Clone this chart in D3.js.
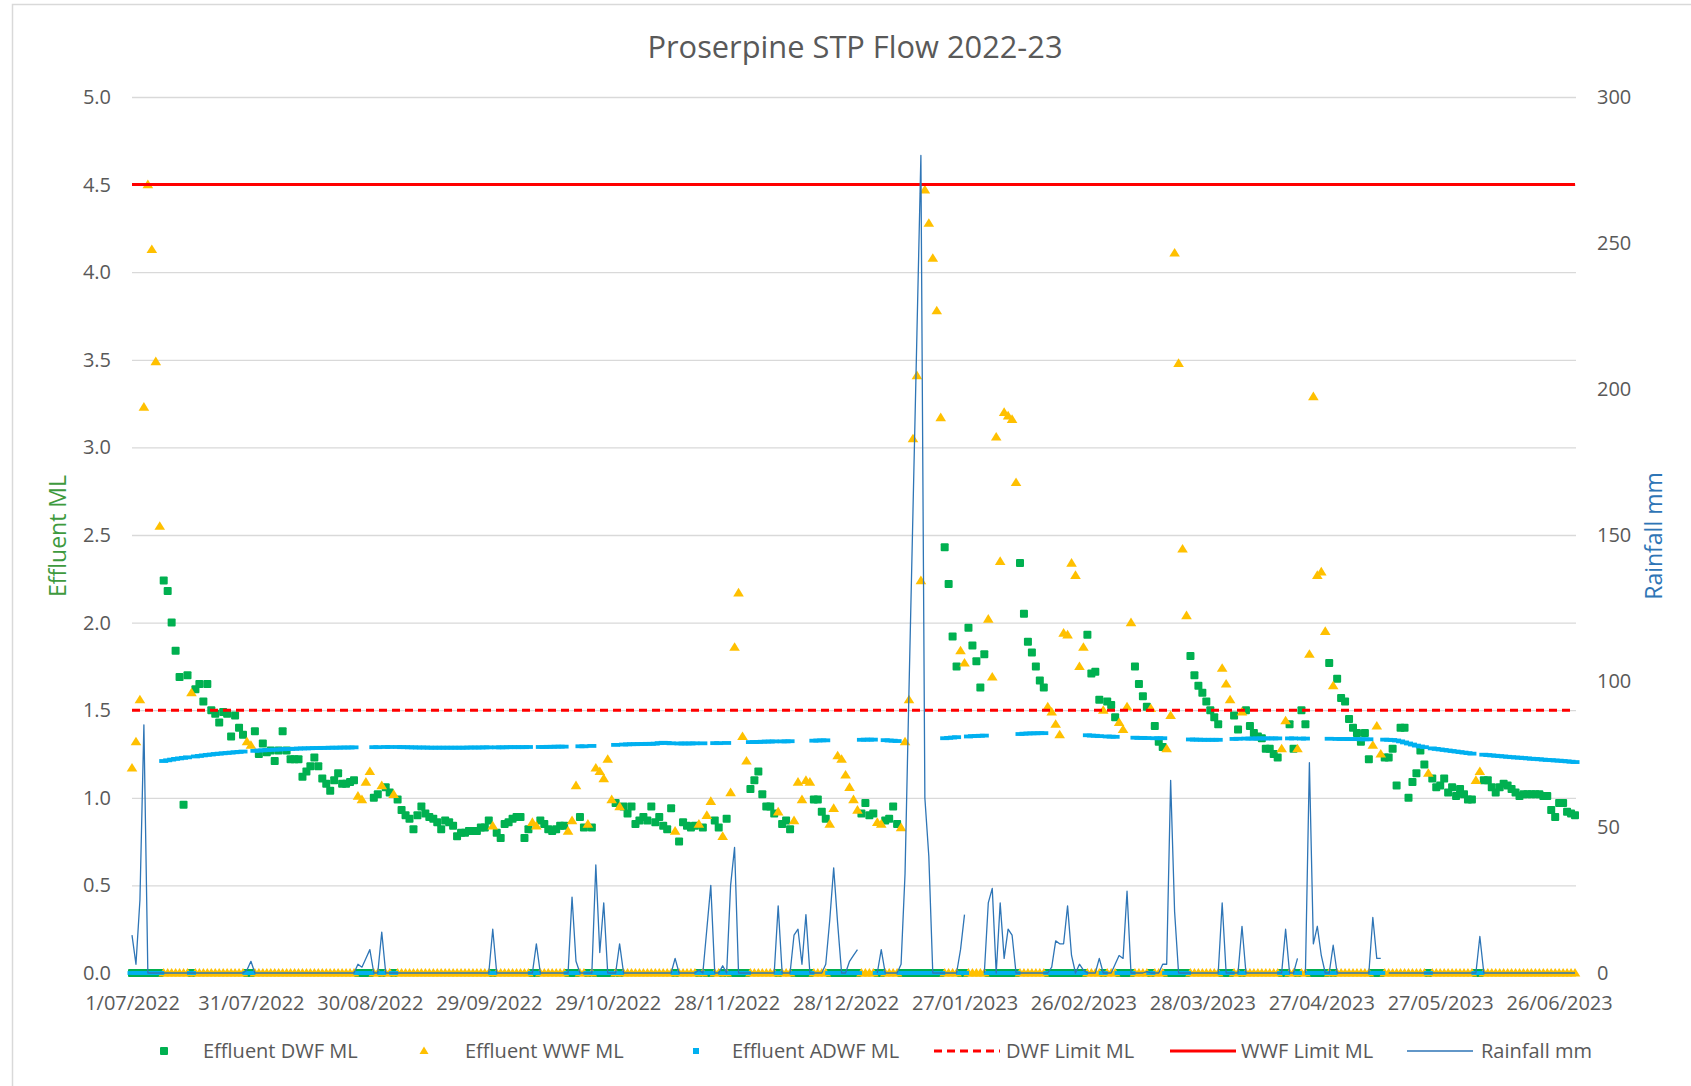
<!DOCTYPE html>
<html>
<head>
<meta charset="utf-8">
<script src="https://cdn.jsdelivr.net/npm/d3@7"></script>
<style>
  body { margin: 0; background: #fff; }
  svg { display: block; font-family: "Open Sans", sans-serif; }
</style>
</head>
<body>
<svg id="chart" width="1691" height="1086"></svg>
<script>
// Daily effluent flow (ML) from 1/07/2022, one value per day
const flowML = [
  // 0
  1.17, 1.32, 1.56, 3.23, 4.50, 4.13, 3.49, 2.55, 2.24, 2.18,
  2.00, 1.84, 1.69, 0.96, 1.70, 1.60, 1.62, 1.65, 1.55, 1.65,
  1.50, 1.48, 1.43, 1.49, 1.48, 1.35, 1.47, 1.40, 1.36, 1.32,
  // 30
  1.30, 1.38, 1.25, 1.31, 1.26, 1.27, 1.21, 1.27, 1.38, 1.27,
  1.22, 1.22, 1.22, 1.12, 1.15, 1.18, 1.23, 1.18, 1.11, 1.08,
  1.04, 1.10, 1.14, 1.08, 1.08, 1.09, 1.10, 1.01, 0.99, 1.09,
  // 60
  1.15, 1.00, 1.02, 1.07, 1.06, 1.03, 1.02, 0.99, 0.93, 0.90,
  0.88, 0.82, 0.90, 0.95, 0.91, 0.89, 0.88, 0.86, 0.82, 0.87,
  0.86, 0.84, 0.78, 0.80, 0.80, 0.81, 0.81, 0.81, 0.83, 0.83,
  // 90
  0.87, 0.84, 0.80, 0.77, 0.85, 0.86, 0.88, 0.89, 0.89, 0.77,
  0.82, 0.86, 0.84, 0.87, 0.85, 0.82, 0.81, 0.82, 0.84, 0.84,
  0.81, 0.87, 1.07, 0.89, 0.83, 0.85, 0.83, 1.17, 1.15, 1.11,
  // 120
  1.22, 0.99, 0.97, 0.95, 0.95, 0.91, 0.95, 0.85, 0.87, 0.89,
  0.87, 0.95, 0.86, 0.89, 0.84, 0.82, 0.94, 0.81, 0.75, 0.86,
  0.84, 0.83, 0.84, 0.85, 0.83, 0.90, 0.98, 0.87, 0.83, 0.78,
  // 150
  0.88, 1.03, 1.86, 2.17, 1.35, 1.21, 1.05, 1.10, 1.15, 1.02,
  0.95, 0.95, 0.91, 0.92, 0.85, 0.87, 0.82, 0.87, 1.09, 0.99,
  1.10, 1.09, 0.99, 0.99, 0.92, 0.88, 0.85, 0.94, 1.24, 1.22,
  // 180
  1.13, 1.06, 0.99, 0.93, 0.91, 0.97, 0.90, 0.91, 0.86, 0.85,
  0.87, 0.88, 0.95, 0.85, 0.83, 1.32, 1.56, 3.05, 3.41, 2.24,
  4.47, 4.28, 4.08, 3.78, 3.17, 2.43, 2.22, 1.92, 1.75, 1.84,
  // 210
  1.77, 1.97, 1.87, 1.78, 1.63, 1.82, 2.02, 1.69, 3.06, 2.35,
  3.20, 3.18, 3.16, 2.80, 2.34, 2.05, 1.89, 1.83, 1.75, 1.67,
  1.63, 1.52, 1.49, 1.42, 1.36, 1.94, 1.93, 2.34, 2.27, 1.75,
  // 240
  1.86, 1.93, 1.71, 1.72, 1.56, 1.50, 1.55, 1.53, 1.46, 1.43,
  1.39, 1.52, 2.00, 1.75, 1.65, 1.58, 1.52, 1.51, 1.41, 1.32,
  1.29, 1.28, 1.47, 4.11, 3.48, 2.42, 2.04, 1.81, 1.70, 1.64,
  // 270
  1.60, 1.55, 1.50, 1.46, 1.42, 1.74, 1.65, 1.56, 1.47, 1.39,
  1.49, 1.50, 1.41, 1.37, 1.35, 1.34, 1.28, 1.28, 1.25, 1.23,
  1.28, 1.44, 1.42, 1.28, 1.28, 1.50, 1.42, 1.82, 3.29, 2.27,
  // 300
  2.29, 1.95, 1.77, 1.64, 1.68, 1.57, 1.55, 1.45, 1.40, 1.37,
  1.32, 1.37, 1.22, 1.30, 1.41, 1.25, 1.23, 1.23, 1.28, 1.07,
  1.40, 1.40, 1.00, 1.09, 1.14, 1.27, 1.19, 1.14, 1.11, 1.06,
  // 330
  1.07, 1.11, 1.03, 1.06, 1.01, 1.05, 1.02, 0.99, 0.99, 1.10,
  1.15, 1.10, 1.10, 1.06, 1.03, 1.06, 1.08, 1.07, 1.05, 1.03,
  1.01, 1.02, 1.02, 1.02, 1.02, 1.02, 1.01, 1.01, 0.93, 0.89,
  // 360
  0.97, 0.97, 0.92, 0.91, 0.90
];

// days (from 1/07/2022) that were wet weather flow days
const wetDays = [
  0, 1, 2, 3, 4, 5, 6, 7, 15, 29, 30, 57, 58, 59, 60, 63, 66, 91, 101, 102,
  110, 111, 112, 115, 117, 118, 119, 120, 121, 123, 137, 143, 145, 146, 149,
  151, 152, 153, 154, 155, 163, 167, 168, 169, 170, 171,
  176, 177, 178, 179, 180, 181, 182, 183, 188, 189,
  194, 195, 196, 197, 198, 199, 200, 201, 202, 203, 204, 209, 210,
  216, 217, 218, 219, 220, 221, 222, 223,
  231, 232, 233, 234, 235, 236, 237, 238, 239, 240, 245, 249, 250, 251, 252,
  257, 261, 262, 263, 264, 265, 266, 275, 276, 277, 280, 290, 291, 294,
  297, 298, 299, 300, 301, 303, 313, 314, 315, 327, 339, 340
];

// Average dry weather flow, 0 on wet days
const adwfML = [
  0, 0, 0, 0, 0, 0, 0, 0, 1.210, 1.214,
  1.218, 1.222, 1.225, 1.228, 1.231, 0, 1.236, 1.239, 1.242, 1.245,
  1.247, 1.250, 1.252, 1.254, 1.256, 1.258, 1.260, 1.262, 1.264, 0,
  0, 1.268, 1.270, 1.271, 1.272, 1.274, 1.275, 1.276, 1.277, 1.278,
  1.279, 1.280, 1.281, 1.282, 1.282, 1.283, 1.284, 1.284, 1.285, 1.285,
  1.286, 1.286, 1.286, 1.287, 1.287, 1.287, 1.288, 0, 0, 0,
  0, 1.289, 1.289, 0, 1.290, 1.290, 0, 1.290, 1.289, 1.289,
  1.288, 1.288, 1.287, 1.287, 1.287, 1.286, 1.286, 1.286, 1.286, 1.286,
  1.286, 1.286, 1.286, 1.286, 1.286, 1.287, 1.287, 1.287, 1.287, 1.288,
  1.288, 0, 1.288, 1.288, 1.288, 1.289, 1.289, 1.289, 1.289, 1.289,
  1.290, 0, 0, 1.290, 1.290, 1.291, 1.291, 1.292, 1.292, 1.292,
  0, 0, 0, 1.294, 1.294, 0, 1.296, 0, 0, 0,
  0, 0, 1.302, 0, 1.304, 1.305, 1.306, 1.306, 1.307, 1.307,
  1.308, 1.308, 1.309, 1.312, 1.314, 1.313, 1.311, 0, 1.310, 1.310,
  1.310, 1.310, 1.311, 0, 1.311, 0, 0, 1.312, 1.312, 0,
  1.313, 0, 0, 0, 0, 0, 1.318, 1.318, 1.319, 1.320,
  1.321, 1.321, 1.322, 0, 1.322, 1.322, 1.323, 0, 0, 0,
  0, 0, 1.326, 1.327, 1.328, 1.328, 0, 0, 0, 0,
  0, 0, 0, 0, 1.331, 1.332, 1.332, 1.332, 0, 0,
  1.329, 1.327, 1.326, 1.324, 0, 0, 0, 0, 0, 0,
  0, 0, 0, 0, 0, 1.340, 1.342, 1.344, 1.346, 0,
  0, 1.350, 1.352, 1.353, 1.354, 1.355, 0, 0, 0, 0,
  0, 0, 0, 0, 1.364, 1.366, 1.367, 1.368, 1.368, 1.369,
  1.369, 0, 0, 0, 0, 0, 0, 0, 0, 0,
  0, 1.357, 1.355, 1.354, 1.352, 0, 1.350, 1.349, 1.348, 0,
  0, 0, 0, 1.343, 1.342, 1.342, 1.341, 0, 1.340, 1.340,
  1.340, 0, 0, 0, 0, 0, 0, 1.333, 1.332, 1.332,
  1.331, 1.331, 1.331, 1.331, 1.331, 0, 0, 0, 1.336, 1.337,
  0, 1.338, 1.338, 1.338, 1.339, 1.339, 1.339, 1.339, 1.339, 1.339,
  0, 0, 1.339, 1.339, 0, 1.338, 1.338, 0, 0, 0,
  0, 0, 1.337, 0, 1.336, 1.336, 1.336, 1.335, 1.335, 1.335,
  1.334, 1.334, 1.334, 0, 0, 0, 1.332, 1.331, 1.330, 1.327,
  1.322, 1.316, 1.310, 1.304, 1.298, 1.293, 1.289, 0, 1.282, 1.279,
  1.276, 1.273, 1.270, 1.267, 1.264, 1.261, 1.258, 1.255, 1.252, 0,
  0, 1.246, 1.244, 1.242, 1.240, 1.238, 1.236, 1.234, 1.232, 1.230,
  1.229, 1.227, 1.225, 1.223, 1.222, 1.220, 1.218, 1.216, 1.215, 1.213,
  1.212, 1.210, 1.208, 1.206, 1.204
];

// Daily rainfall (mm), null = no reading
const rainfallMM = [
  13, 3, 25, 85, 0, 0, 0, 0, 0, 0,
  0, 0, 0, 0, 0, 0, 0, 0, 0, 0,
  0, 0, 0, 0, 0, 0, 0, 0, 0, 1,
  4, 0, 0, 0, 0, 0, 0, 0, 0, 0,
  0, 0, 0, 0, 0, 0, 0, 0, 0, 0,
  0, 0, 0, 0, 0, 0, 0, 3, 2, 5,
  8, 0, 0, 14, 0, 0, 0, 0, 0, 0,
  0, 0, 0, 0, 0, 0, 0, 0, 0, 0,
  0, 0, 0, 0, 0, 0, 0, 0, 0, 0,
  0, 15, 0, 0, 0, 0, 0, 0, 0, 0,
  0, 0, 10, 0, 0, 0, 0, 0, 0, 0,
  0, 26, 4, 0, 0, 0, 0, 37, 7, 24,
  0, 0, 0, 10, 0, 0, 0, 0, 0, 0,
  0, 0, 0, 0, 0, 0, 0, 5, 0, 0,
  0, 0, 0, 1, 0, 15, 30, 0, 0, 2.5,
  0, 30, 43, 0, 0, 0, 0, 0, 0, 0,
  0, 0, 0, 23, 0, 0, 0, 13, 15, 3,
  20, 0, 0, 0, 0, 3, 18, 36, 17, 0,
  0, 4, 6, 8, null, null, null, null, 0, 8,
  0, 0, 0, 0, 3, 34, 97, 158, 219, 280,
  60, 40, 0, 0, 0, 0, 0, 0, 0, 8,
  20, null, null, null, null, 0, 24, 29, 0, 24,
  5, 15, 13, 0, 0, 0, 0, 0, 0, 0,
  0, 0, 2, 11, 10, 10, 23, 6, 0, 3,
  1, 0, 0, 0, 5, 0, 0, 0, 3, 6,
  5, 28, 0, 0, 0, 0, 0.5, 0, 0, 0,
  3, 3, 66, 21, 0, 0, 0, 0, 0, 0,
  0, 0, 0, 0, 0, 24, 0, 0, 0, 0,
  16, 0, 0, 0, 0, 0, 0, 0, 0, 0,
  0, 15, 0, 0, 5, null, 0, 72, 10, 16,
  6, 0, 0, 9.5, 0, 0, 0, 0, 0, 0,
  0, 0, 0, 19, 5, 5, null, 0, 0, 0,
  0, 0, 0, 0, 0, 0, 0, 0, 0, 0,
  0, 0, 0, 0, 0, 0, 0, 0, 0, 0,
  12.5, 0, 0, 0, 0, 0, 0, 0, 0, 0,
  0, 0, 0, 0, 0, 0, 0, 0, 0, 0,
  0, 0, 0, 0, 0
];

const dwfLimitML = 1.5;
const wwfLimitML = 4.5;
const leftTicks = [0, 0.5, 1, 1.5, 2, 2.5, 3, 3.5, 4, 4.5, 5];
const rightTicks = [0, 50, 100, 150, 200, 250, 300];
const legendNames = ["Effluent DWF ML", "Effluent WWF ML", "Effluent ADWF ML", "DWF Limit ML", "WWF Limit ML", "Rainfall mm"];

const startDate = new Date(Date.UTC(2022, 6, 1));
const wetSet = new Set(wetDays);

let data = flowML.map((v, i) => ({
    date: d3.utcDay.offset(startDate, i),
    dwf: wetSet.has(i) ? 0 : v,
    wwf: wetSet.has(i) ? v : 0,
    adwf: adwfML[i],
    rain: rainfallMM[i]
}));

// layout
const W = 1691, H = 1086;
const plotL = 132, plotR = 1575, plotT = 97, plotB = 973;
const textCol = "#595959";
const cGreen = "#00B050", cYellow = "#FFC000", cBlue = "#00B0F0", cRed = "#FF0000", cRain = "#2E75B6";

const svg = d3.select("#chart");
svg.append("rect").attr("width", W).attr("height", H).attr("fill", "#fff");
svg.append("rect")
    .attr("x", 12.5).attr("y", 4.5)
    .attr("width", W + 20).attr("height", H + 20)
    .attr("fill", "none").attr("stroke", "#d9d9d9").attr("stroke-width", 1.5);

let x = d3.scaleUtc().domain([startDate, d3.utcDay.offset(startDate, 364)]).range([plotL, plotR]);
let y = d3.scaleLinear().domain([0, 5]).range([plotB, plotT]);
let y2 = d3.scaleLinear().domain([0, 300]).range([plotB, plotT]);

// gridlines
svg.append("g")
    .attr("transform", `translate(${plotL},0)`)
    .call(d3.axisLeft(y).tickValues(leftTicks).tickSize(-(plotR + 1 - plotL)).tickFormat(""))
    .call(g => g.select(".domain").remove())
    .call(g => g.selectAll("line").attr("stroke", "#d9d9d9").attr("stroke-width", 1.3));

// axes
const fontSize = 20;
svg.append("g")
    .attr("transform", `translate(${plotL},0)`)
    .call(d3.axisLeft(y).tickValues(leftTicks).tickFormat(d3.format(".1f")).tickSize(0).tickPadding(21))
    .call(g => g.select(".domain").remove())
    .selectAll("text").attr("fill", textCol).style("font-size", fontSize + "px").style("font-family", "Open Sans");

svg.append("g")
    .attr("transform", `translate(${plotR + 1},0)`)
    .call(d3.axisRight(y2).tickValues(rightTicks).tickSize(0).tickPadding(21))
    .call(g => g.select(".domain").remove())
    .selectAll("text").attr("fill", textCol).style("font-size", fontSize + "px").style("font-family", "Open Sans");

let xTicks = d3.range(0, 365, 30).map(i => d3.utcDay.offset(startDate, i));
svg.append("g")
    .attr("transform", `translate(0,${plotB})`)
    .call(d3.axisBottom(x).tickValues(xTicks).tickFormat(d3.utcFormat("%-d/%m/%Y")).tickSize(0).tickPadding(23))
    .call(g => g.select(".domain").remove())
    .selectAll("text").attr("fill", textCol).style("font-size", fontSize + "px").style("font-family", "Open Sans");

// markers
const tri = "M0,-5L5.3,3.6L-5.3,3.6Z";

svg.append("g").selectAll("rect")
    .data(data).join("rect")
    .attr("x", d => x(d.date) - 4).attr("y", d => y(d.dwf) - 4)
    .attr("width", 8).attr("height", 8).attr("rx", 1)
    .attr("fill", cGreen);

svg.append("g").selectAll("path")
    .data(data).join("path")
    .attr("d", tri)
    .attr("transform", d => `translate(${x(d.date)},${y(d.wwf)})`)
    .attr("fill", cYellow);

svg.append("g").selectAll("rect")
    .data(data).join("rect")
    .attr("x", d => x(d.date) - 4.5).attr("y", d => y(d.adwf) - 1.9)
    .attr("width", 9).attr("height", 3.8)
    .attr("fill", cBlue);

// limit lines
let limitLine = v => d3.line().x(d => x(d.date)).y(() => y(v))(data);
svg.append("path").attr("d", limitLine(dwfLimitML))
    .attr("fill", "none").attr("stroke", cRed).attr("stroke-width", 3).attr("stroke-dasharray", "8,5");
svg.append("path").attr("d", limitLine(wwfLimitML))
    .attr("fill", "none").attr("stroke", cRed).attr("stroke-width", 3);

// rainfall (secondary axis)
svg.append("path")
    .attr("d", d3.line().defined(d => d.rain != null).x(d => x(d.date)).y(d => y2(d.rain))(data))
    .attr("fill", "none").attr("stroke", cRain).attr("stroke-width", 1.3).attr("stroke-linejoin", "round");

// titles
svg.append("text").attr("x", 855).attr("y", 58).attr("text-anchor", "middle")
    .attr("fill", textCol).style("font-size", "30.8px").text("Proserpine STP Flow 2022-23");

svg.append("text").attr("transform", "translate(66,536) rotate(-90)").attr("text-anchor", "middle")
    .attr("fill", "#3E9A3E").style("font-size", "23px").text("Effluent ML");

svg.append("text").attr("transform", "translate(1662,536) rotate(-90)").attr("text-anchor", "middle")
    .attr("fill", cRain).style("font-size", "23px").text("Rainfall mm");

// legend
const legY = 1051;
const legItems = [
    {sym: 164, txt: 203}, {sym: 424, txt: 465}, {sym: 696, txt: 732},
    {sym: 967, txt: 1006}, {sym: 1203, txt: 1241}, {sym: 1440, txt: 1481}
];
let leg = svg.append("g");
legItems.forEach((it, i) => {
    if (i === 0) leg.append("rect").attr("x", it.sym - 4).attr("y", legY - 4).attr("width", 8).attr("height", 8).attr("rx", 1).attr("fill", cGreen);
    if (i === 1) leg.append("path").attr("d", "M0,-4.5L4.5,3L-4.5,3Z").attr("transform", `translate(${it.sym},${legY})`).attr("fill", cYellow);
    if (i === 2) leg.append("rect").attr("x", it.sym - 3).attr("y", legY - 3).attr("width", 6).attr("height", 6).attr("fill", cBlue);
    if (i === 3) leg.append("line").attr("x1", it.sym - 33).attr("x2", it.sym + 33).attr("y1", legY).attr("y2", legY)
        .attr("stroke", cRed).attr("stroke-width", 3).attr("stroke-dasharray", "8,5");
    if (i === 4) leg.append("line").attr("x1", it.sym - 33).attr("x2", it.sym + 33).attr("y1", legY).attr("y2", legY)
        .attr("stroke", cRed).attr("stroke-width", 3);
    if (i === 5) leg.append("line").attr("x1", it.sym - 33).attr("x2", it.sym + 33).attr("y1", legY).attr("y2", legY)
        .attr("stroke", cRain).attr("stroke-width", 1.3);
    leg.append("text").attr("x", it.txt).attr("y", legY).attr("dy", "0.35em")
        .attr("fill", textCol).style("font-size", "20px").text(legendNames[i]);
});
</script>
</body>
</html>
